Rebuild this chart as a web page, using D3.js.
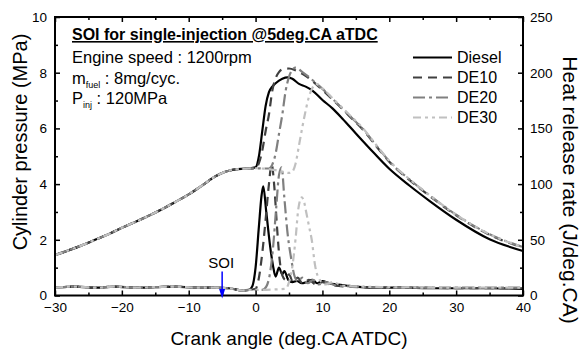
<!DOCTYPE html>
<html>
<head>
<meta charset="utf-8">
<script src="https://cdn.jsdelivr.net/npm/d3@7"></script>
<style>
body { margin: 0; background: #fff; }
svg text { font-family: "Liberation Sans", Arial, sans-serif; fill: #000; }
.axis path { display: none; }
.axis line { stroke: #000; stroke-width: 1.5; }
</style>
</head>
<body>
<svg id="chart" width="583" height="349"></svg>
<script>
// crank angle ticks (deg.CA ATDC)
var angleTicks = [-30, -20, -10, 0, 10, 20, 30, 40];
var angleMinor = [-25, -15, -5, 5, 15, 25, 35];
var pressureTicks = [0, 2, 4, 6, 8, 10];
var pressureMinor = [1, 3, 5, 7, 9];
var hrrTicks = [0, 50, 100, 150, 200, 250];
var hrrMinor = [25, 75, 125, 175, 225];

var seriesNames = ["Diesel", "DE10", "DE20", "DE30"];

// shared compression stroke, [deg, MPa]
var compressionP = [[-30, 1.45], [-28, 1.62], [-26, 1.8], [-24, 2.0], [-22, 2.2], [-20, 2.43],
    [-18, 2.64], [-16, 2.86], [-14, 3.1], [-12, 3.36], [-10, 3.63], [-8, 3.95], [-6, 4.28],
    [-5, 4.4], [-4, 4.48], [-3, 4.53], [-2, 4.55], [-1, 4.56]];

var dieselP = [[0, 4.6], [0.5, 5.0], [1, 5.9], [1.5, 6.8], [2, 7.3], [2.5, 7.5], [3, 7.62],
    [4, 7.78], [4.8, 7.83], [5.5, 7.78], [6.5, 7.6], [7.5, 7.5], [8.5, 7.36], [10, 7.02],
    [11.5, 6.72], [13, 6.35], [15, 5.82], [17, 5.3], [20, 4.55], [23, 3.95], [26, 3.4],
    [30, 2.72], [35, 2.02], [40, 1.6]];

var de10P = [[0, 4.57], [0.5, 4.75], [1, 5.2], [1.5, 5.9], [2, 6.5], [2.5, 7.35], [3, 7.8],
    [3.5, 8.02], [4, 8.12], [5, 8.15], [6, 8.08], [7, 7.96], [8, 7.8], [9, 7.6], [10, 7.38],
    [11.6, 7.02], [14, 6.45], [16, 5.97], [18.6, 5.2], [20, 4.8], [23, 4.15], [26, 3.58],
    [30, 2.88], [35, 2.18], [40, 1.72]];

var de20P = [[0, 4.57], [1, 4.56], [2, 4.56], [2.5, 4.7], [3, 5.1], [3.5, 5.8], [4, 6.5],
    [4.5, 7.35], [5, 7.85], [5.5, 8.1], [6, 8.18], [7, 8.02], [8, 7.84], [9, 7.63], [10, 7.42],
    [11.6, 7.04], [14, 6.47], [16, 5.99], [18.6, 5.22], [20, 4.82], [23, 4.17], [26, 3.6],
    [30, 2.9], [35, 2.2], [40, 1.74]];

var de30P = [[0, 4.57], [1, 4.56], [2, 4.54], [3, 4.5], [4, 4.45], [5, 4.4], [5.5, 4.45],
    [6, 4.75], [6.5, 5.4], [7, 6.05], [7.5, 6.65], [8, 7.15], [8.5, 7.45], [9, 7.6], [10, 7.44],
    [11.6, 7.06], [14, 6.5], [16, 6.02], [18.6, 5.24], [20, 4.84], [23, 4.18], [26, 3.61],
    [30, 2.9], [35, 2.2], [40, 1.74]];

// heat release rate, [deg, J/deg.CA]
var hrrBase = [[-30, 7], [-27, 8], [-24, 7], [-21, 8], [-18, 7], [-15, 7.5], [-12, 8], [-9, 7],
    [-6, 7], [-4, 6.5], [-3, 5.5], [-2, 4.5]];

var dieselH = [[-1, 5], [-0.5, 8], [0, 25], [0.5, 62], [0.9, 90], [1.15, 98], [1.6, 75],
    [2.1, 48], [2.6, 27], [3.0, 17], [3.5, 25], [4.0, 19], [4.3, 22], [4.9, 14], [5.5, 12],
    [6.2, 13], [6.9, 11], [7.6, 12], [8.5, 14], [9.2, 11], [10, 13], [11, 11], [12, 10],
    [13.5, 9], [15, 8], [18, 7], [22, 7], [26, 6.5], [30, 6.5], [35, 6.5], [40, 6]];

var de10H = [[-1, 5], [0, 6], [0.5, 16], [1, 38], [1.5, 68], [2, 100], [2.4, 118], [2.8, 98],
    [3.2, 62], [3.6, 32], [4, 18], [4.5, 14], [5, 19], [5.6, 12], [6.3, 16], [7, 11], [8, 14],
    [9, 10], [10, 12], [11.5, 9], [14, 8], [18, 7], [25, 7], [30, 6.5], [40, 6.5]];

var de20H = [[-1, 5], [1, 5], [1.6, 8], [2.1, 18], [2.6, 42], [3.1, 80], [3.5, 108], [3.9, 115],
    [4.3, 88], [4.8, 55], [5.3, 34], [5.8, 18], [6.3, 13], [7, 16], [7.8, 11], [8.6, 14],
    [9.5, 10], [10.5, 12], [12, 9], [15, 8], [20, 7], [30, 7], [40, 7]];

var de30H = [[-1, 5], [1, 5], [3, 5.5], [4.5, 6], [5, 12], [5.5, 26], [6, 52], [6.4, 78],
    [6.9, 88], [7.3, 83], [7.6, 74], [8, 62], [8.4, 50], [8.9, 27], [9.6, 14], [10.5, 10],
    [11.5, 12], [13, 9], [16, 8], [20, 7.5], [30, 7], [40, 7]];

var soiAngle = -5;

var pressures = [dieselP, de10P, de20P, de30P];
var hrrs = [dieselH, de10H, de20H, de30H];
var colors = ["#000000", "#404040", "#808080", "#c0c0c0"];
var dashes = [null, "9,6", "12,4,3,4", "8,4,3,4,3,4"];

var svg = d3.select("#chart");
var plot = { left: 55, right: 523, top: 17, bottom: 295.5 };

var x = d3.scaleLinear().domain([-30, 40]).range([plot.left, plot.right]);
var yP = d3.scaleLinear().domain([0, 10]).range([plot.bottom, plot.top]);
var yH = d3.scaleLinear().domain([0, 250]).range([plot.bottom, plot.top]);

var lineP = d3.line().x(function(d) { return x(d[0]); }).y(function(d) { return yP(d[1]); })
    .curve(d3.curveMonotoneX);
var lineH = d3.line().x(function(d) { return x(d[0]); }).y(function(d) { return yH(d[1]); })
    .curve(d3.curveMonotoneX);

var g = svg.append("g");

seriesNames.forEach(function(name, i) {
    var pData = compressionP.concat(pressures[i]);
    var hData = hrrBase.concat(hrrs[i]);
    [[pData, lineP], [hData, lineH]].forEach(function(pair) {
        g.append("path")
            .attr("d", pair[1](pair[0]))
            .attr("fill", "none")
            .attr("stroke", colors[i])
            .attr("stroke-width", 2.2)
            .attr("stroke-dasharray", dashes[i]);
    });
});

// axes, ticks inward
function addAxis(axis, tr, size, labels, fontSize) {
    var a = svg.append("g").attr("class", "axis").attr("transform", tr)
        .call(axis.tickSizeInner(-size).tickSizeOuter(0));
    a.selectAll("text").style("font-size", fontSize + "px");
    if (!labels) a.selectAll("text").remove();
    return a;
}

addAxis(d3.axisBottom(x).tickValues(angleTicks).tickPadding(7), "translate(0," + plot.bottom + ")", 5, true, 13.5);
addAxis(d3.axisBottom(x).tickValues(angleMinor), "translate(0," + plot.bottom + ")", 3, false);
addAxis(d3.axisTop(x).tickValues(angleTicks), "translate(0," + plot.top + ")", 5, false);
addAxis(d3.axisTop(x).tickValues(angleMinor), "translate(0," + plot.top + ")", 3, false);
addAxis(d3.axisLeft(yP).tickValues(pressureTicks).tickPadding(8), "translate(" + plot.left + ",0)", 5, true, 13.5);
addAxis(d3.axisLeft(yP).tickValues(pressureMinor), "translate(" + plot.left + ",0)", 3, false);
addAxis(d3.axisRight(yH).tickValues(hrrTicks).tickPadding(7), "translate(" + plot.right + ",0)", 5, true, 13.5);
addAxis(d3.axisRight(yH).tickValues(hrrMinor), "translate(" + plot.right + ",0)", 3, false);

svg.append("rect")
    .attr("x", plot.left).attr("y", plot.top)
    .attr("width", plot.right - plot.left).attr("height", plot.bottom - plot.top)
    .attr("fill", "none").attr("stroke", "#000").attr("stroke-width", 2);

// axis titles
svg.append("text")
    .attr("x", (plot.left + plot.right) / 2).attr("y", 345)
    .attr("text-anchor", "middle").style("font-size", "19px")
    .text("Crank angle (deg.CA ATDC)");

svg.append("text")
    .attr("transform", "translate(20,142) rotate(-90)")
    .attr("text-anchor", "middle").attr("dominant-baseline", "central").style("font-size", "20px")
    .text("Cylinder pressure (MPa)");

svg.append("text")
    .attr("transform", "translate(570,190) rotate(90)")
    .attr("text-anchor", "middle").attr("dominant-baseline", "central").style("font-size", "21px")
    .text("Heat release rate (J/deg.CA)");

// notes
var notes = svg.append("g").attr("transform", "translate(72,0)");
notes.append("text").attr("y", 40).style("font-size", "16px").style("font-weight", "bold")
    .style("text-decoration", "underline")
    .text("SOI for single-injection @5deg.CA aTDC");
notes.append("text").attr("y", 63).style("font-size", "16.5px").text("Engine speed : 1200rpm");
var m = notes.append("text").attr("y", 83.5).style("font-size", "16.5px");
m.append("tspan").text("m");
m.append("tspan").attr("dy", 4).style("font-size", "9px").text("fuel");
m.append("tspan").attr("dy", -4).text(" : 8mg/cyc.");
var p = notes.append("text").attr("y", 104).style("font-size", "16.5px");
p.append("tspan").text("P");
p.append("tspan").attr("dy", 4).style("font-size", "9px").text("inj");
p.append("tspan").attr("dy", -4).text(" : 120MPa");

// legend
var legend = svg.append("g").attr("transform", "translate(413,57.5)");
seriesNames.forEach(function(name, i) {
    var row = legend.append("g").attr("transform", "translate(0," + (i * 20) + ")");
    row.append("line").attr("x1", 0).attr("x2", 39).attr("y1", 0).attr("y2", 0)
        .attr("stroke", colors[i]).attr("stroke-width", 2.2).attr("stroke-dasharray", dashes[i]);
    row.append("text").attr("x", 44).attr("y", 0).attr("dy", "0.36em")
        .style("font-size", "16px").text(name);
});

// SOI marker
var sx = x(soiAngle);
svg.append("text").attr("x", sx - 1).attr("y", 267.5).attr("text-anchor", "middle")
    .style("font-size", "15px").text("SOI");
svg.append("line").attr("x1", sx).attr("x2", sx).attr("y1", 271.5).attr("y2", 290)
    .attr("stroke", "#0000ff").attr("stroke-width", 1.5);
svg.append("path")
    .attr("d", "M" + (sx - 3) + "," + 289 + "L" + (sx + 3) + "," + 289 + "L" + sx + "," + 298.5 + "Z")
    .attr("fill", "#0000ff");
</script>
</body>
</html>
